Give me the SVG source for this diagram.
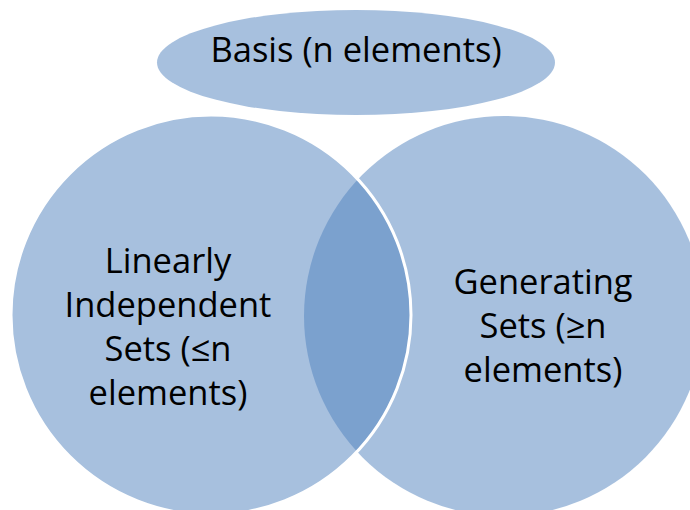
<svg xmlns="http://www.w3.org/2000/svg" width="690" height="510" viewBox="0 0 690 510">
  <style>
    .set { fill: #4F81BD; fill-opacity: 0.5; }
    .edge { stroke: #FFFFFF; stroke-width: 3; }
    .label { font-family: "Open Sans", "Noto Sans", "Liberation Sans", sans-serif; font-size: 34.5px; fill: #000000; text-anchor: middle; }
  </style>
  <rect width="690" height="510" fill="#FFFFFF"/>

  <!-- Basis ellipse on top -->
  <g id="basis">
    <ellipse class="set" cx="356" cy="62.5" rx="199" ry="52.5"/>
    <text class="label" x="356" y="62">Basis (n elements)</text>
  </g>

  <!-- Generating sets circle (drawn first, underneath) -->
  <g id="generating-sets">
    <circle class="set" cx="504" cy="316" r="200"/>
    <text class="label" x="543" y="294">Generating</text>
    <text class="label" x="543" y="338">Sets (≥n</text>
    <text class="label" x="543" y="382">elements)</text>
  </g>

  <!-- Linearly independent sets circle, overlapping with white rim -->
  <g id="linearly-independent-sets">
    <circle class="set edge" cx="211" cy="315" r="200"/>
    <text class="label" x="168" y="273">Linearly</text>
    <text class="label" x="168" y="317">Independent</text>
    <text class="label" x="168" y="361">Sets (≤n</text>
    <text class="label" x="168" y="405">elements)</text>
  </g>
</svg>
